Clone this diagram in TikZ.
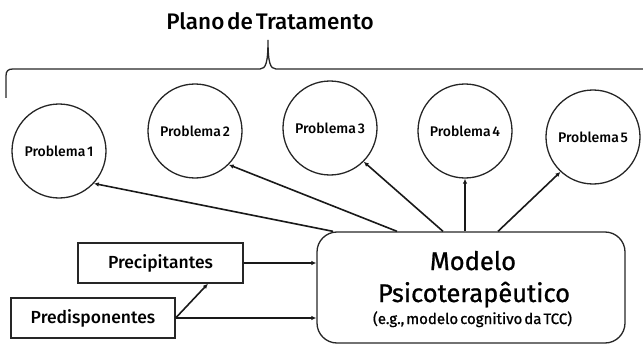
\documentclass[tikz,border=0pt]{standalone}
\usepackage{fontspec}
\setmainfont{Fira Sans}[BoldFont={Fira Sans Medium}, WordSpace=0.5]
\newfontfamily\modelfont{Fira Sans}[FakeBold=0.9, WordSpace=0.5]
\usetikzlibrary{arrows.meta}
\begin{document}
\begin{tikzpicture}[x=1pt,y=-1pt,
  prob/.style={circle,draw=black!85,line width=1.3pt,minimum size=94pt,inner sep=0pt,font=\fontsize{14}{16}\selectfont\bfseries},
  sidebox/.style={rectangle,draw=black!85,line width=1.3pt,inner sep=0pt,font=\fontsize{17.5}{20}\selectfont\bfseries},
  modelbox/.style={rectangle,rounded corners=20pt,draw=black!85,line width=1.3pt,minimum width=308pt,minimum height=111pt},
  modeltext/.style={font=\fontsize{25.5}{28}\selectfont\modelfont, anchor=base},
  conn/.style={line width=1.6pt,draw=black!90,-{Latex[length=5pt,width=4.5pt]}},
  bracestyle/.style={line width=1.3pt,draw=black!85}]
\useasboundingbox (0,0) rectangle (643,345);

\node[font=\fontsize{22.5}{26}\selectfont\bfseries, anchor=base] (title) at (270,30) {Plano de Tratamento};

\draw[bracestyle] (645,69) -- (276,69) .. controls (270,69) and (268,62) .. (268,40)
  .. controls (268,62) and (266,69) .. (260,69) -- (13,69)
  .. controls (8,69) and (6,71) .. (6,76) -- (6,98);

\node[prob] (p1) at (59,151) {Problema 1};
\node[prob] (p2) at (195,131) {Problema 2};
\node[prob] (p3) at (330,128) {Problema 3};
\node[prob] (p4) at (465,131) {Problema 4};
\node[prob] (p5) at (593,137) {Problema 5};

\node[modelbox] (model) at (471,287.5) {};
\node[modeltext] (m1) at (473,270) {Modelo};
\node[modeltext] (m2) at (474,302) {Psicoterapêutico};
\node[font=\fontsize{15}{18}\selectfont\modelfont, anchor=base] (m3) at (472.5,324) {(e.g., modelo cognitivo da TCC)};

\node[sidebox, minimum width=165pt, minimum height=40pt] (prec) at (160.5,263) {Precipitantes};
\node[sidebox, minimum width=164pt, minimum height=40pt] (pred) at (93,318) {Predisponentes};

\draw[conn] (prec.east) -- (prec.east -| model.west);
\draw[conn] (pred.east) -- (pred.east -| model.west);
\draw[conn] (pred.east) -- ([xshift=47.5pt]prec.south);

\draw[conn] ([xshift=-138pt]model.north) -- (p1.-43);
\draw[conn] ([xshift=-74pt]model.north) -- (p2.-45);
\draw[conn] ([xshift=-28pt]model.north) -- (p3.-45);
\draw[conn] (p4.south |- model.north) -- (p4.south);
\draw[conn] ([xshift=27pt]model.north) -- (p5.-133);
\end{tikzpicture}
\end{document}
